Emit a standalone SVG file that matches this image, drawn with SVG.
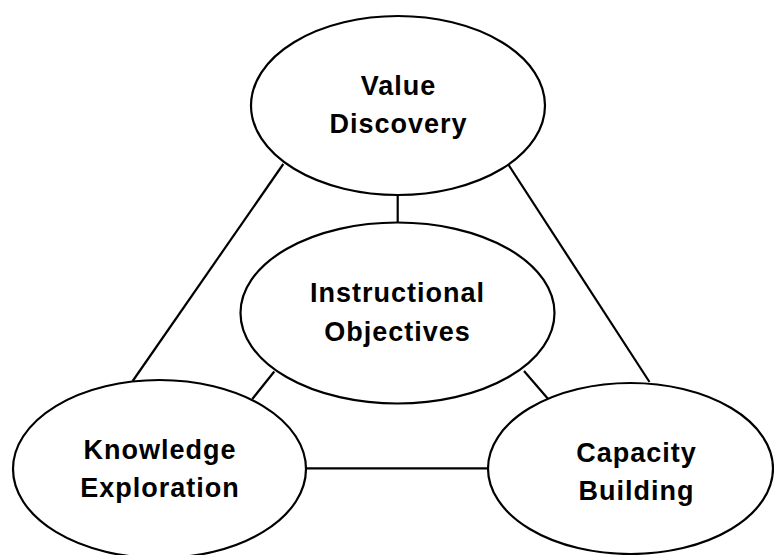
<svg xmlns="http://www.w3.org/2000/svg" width="774" height="555" viewBox="0 0 774 555">
<style>
.n ellipse{fill:#fff;stroke:#000;stroke-width:2.2}
.c line{stroke:#000;stroke-width:2.2}
text{font-family:"Liberation Sans",Arial,sans-serif;font-weight:bold;font-size:27px;letter-spacing:1px;text-anchor:middle;fill:#000}
</style>
<rect width="774" height="555" fill="#fff"/>
<g id="connectors" class="c">
<line x1="283.3" y1="164" x2="132.7" y2="381"/>
<line x1="508" y1="164" x2="649.5" y2="382"/>
<line x1="397.7" y1="195" x2="397.7" y2="223"/>
<line x1="274.3" y1="371.5" x2="252.3" y2="399"/>
<line x1="524" y1="371" x2="549" y2="400"/>
<line x1="306" y1="468.3" x2="488" y2="468.3"/>
</g>
<g id="value-discovery" class="n">
<ellipse cx="398" cy="105.5" rx="147" ry="89.5"/>
<text x="398.5" y="95">Value</text>
<text x="398.5" y="133">Discovery</text>
</g>
<g id="instructional-objectives" class="n">
<ellipse cx="397.5" cy="313" rx="157" ry="90.5"/>
<text x="397.5" y="302">Instructional</text>
<text x="397.5" y="341">Objectives</text>
</g>
<g id="knowledge-exploration" class="n">
<ellipse cx="159.5" cy="469" rx="146.5" ry="89"/>
<text x="160" y="459">Knowledge</text>
<text x="160" y="497">Exploration</text>
</g>
<g id="capacity-building" class="n">
<ellipse cx="630.5" cy="468.5" rx="142.5" ry="85.5"/>
<text x="636.5" y="462">Capacity</text>
<text x="636.5" y="500">Building</text>
</g>
</svg>
